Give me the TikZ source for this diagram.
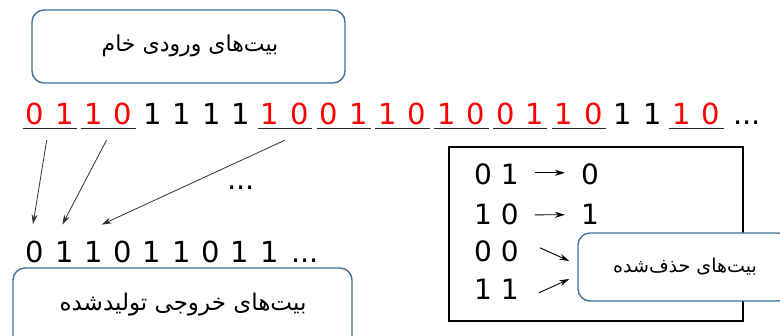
\documentclass[tikz,border=0pt]{standalone}
\usepackage{fontspec}
\setmainfont{DejaVu Sans}
\newfontfamily\farsi[Script=Arabic]{DejaVu Sans}
\TeXXeTstate=1
\usetikzlibrary{arrows.meta}
\definecolor{boxblue}{HTML}{41719C}
\definecolor{bitred}{HTML}{FF0000}
\begin{document}
\begin{tikzpicture}[x=1pt,y=-1pt,
  bit/.style={font=\fontsize{29}{34}\selectfont, inner sep=0pt, anchor=base},
  tbit/.style={font=\fontsize{28}{33}\selectfont, inner sep=0pt, anchor=base},
  pairmark/.style={inner sep=0pt, minimum width=53pt, minimum height=24pt},
  underline/.style={line width=1.3pt, draw=black!85},
  labelbox/.style={draw=boxblue, line width=1.4pt, rounded corners=12pt, fill=white, inner sep=0pt},
  topfa/.style={font=\farsi\fontsize{22}{26}\selectfont},
  botfa/.style={font=\farsi\fontsize{23}{27}\selectfont},
  smallfa/.style={font=\farsi\fontsize{19}{22}\selectfont},
  feed/.style={-{Stealth[length=10pt,width=6pt]}, line width=0.8pt, draw=black!80},
  maparrow/.style={-{Stealth[length=10pt,width=6pt]}, line width=0.9pt, draw=black}]
\useasboundingbox (0,0) rectangle (780,336);
\clip (0,0) rectangle (780,336);

% raw input bits: index/digit/colour
\foreach \i/\d/\c in {0/0/bitred,1/1/bitred,2/1/bitred,3/0/bitred,
    4/1/black,5/1/black,6/1/black,7/1/black,
    8/1/bitred,9/0/bitred,10/0/bitred,11/1/bitred,12/1/bitred,13/0/bitred,
    14/1/bitred,15/0/bitred,16/0/bitred,17/1/bitred,18/1/bitred,19/0/bitred,
    20/1/black,21/1/black,22/1/bitred,23/0/bitred}
  \node[bit, text=\c] (b\i) at ({35+29.4*\i},125) {\d};
\node[bit, anchor=base west] (indots) at (733,125) {...};

% pairs of input bits, underlined
\foreach \k/\i in {0/0,1/2,2/8,3/10,4/12,5/14,6/16,7/18,8/22} {
  \node[pairmark] (p\k) at ({35+29.4*\i+14.7},116) {};
  \draw[underline] ([xshift=-0.5pt]p\k.south west) -- ([xshift=0.5pt]p\k.south east);
}

% produced output bits
\foreach \i/\d in {0/0,1/1,2/1,3/0,4/1,5/1,6/0,7/1,8/1}
  \node[bit] (o\i) at ({35+29.3*\i},263) {\d};
\node[bit, anchor=base west] (outdots) at (291,263) {...};

\node[bit, anchor=base] (middots) at (241,190) {...};

% pair -> output bit
\draw[feed] ([xshift=-3pt,yshift=-12pt]p0.south) -- ([xshift=-2pt,yshift=17pt]o0.north);
\draw[feed] ([xshift=-2pt,yshift=-12pt]p1.south) -- ([xshift=-2pt,yshift=17pt]o1.north);
\draw[feed] ([yshift=-12pt]p2.south) -- ([xshift=8pt,yshift=17pt]o2.north);

% mapping table
\node[draw, line width=1.2pt, inner sep=0pt, minimum width=294pt, minimum height=174pt] (tbl) at (596,234) {};
\node[tbit] (r1) at (496.5,185) {0 1};
\node[tbit] (r2) at (496.5,225) {1 0};
\node[tbit] (r3) at (496.5,262) {0 0};
\node[tbit] (r4) at (496.5,300) {1 1};
\node[tbit] (q1) at (590,185) {0};
\node[tbit] (q2) at (590,225) {1};

\node[labelbox, minimum width=212pt, minimum height=68pt] (del) at (684,267) {};
\node[smallfa] at (685,267) {\beginR بیت‌های حذف‌شده\endR};

\draw[maparrow] ([xshift=16pt,yshift=2pt]r1.east) -- ([xshift=-16pt,yshift=2pt]q1.west);
\draw[maparrow] ([xshift=16pt,yshift=0pt]r2.east) -- ([xshift=-16pt,yshift=0pt]q2.west);
\draw[maparrow] ([xshift=21pt,yshift=4pt]r3.east) -- ([xshift=-8pt,yshift=6pt]del.west);
\draw[maparrow] ([xshift=20pt,yshift=-3pt]r4.east) -- ([xshift=-8pt,yshift=-12pt]del.west);

% labels
\node[labelbox, minimum width=313pt, minimum height=73pt] (raw) at (188.5,46.5) {};
\node[topfa] at (190,46) {\beginR بیت‌های ورودی خام\endR};
\node[labelbox, minimum width=339pt, minimum height=80pt] (gen) at (182.5,308) {};
\node[botfa] at (183,305) {\beginR بیت‌های خروجی تولیدشده\endR};
\end{tikzpicture}
\end{document}
